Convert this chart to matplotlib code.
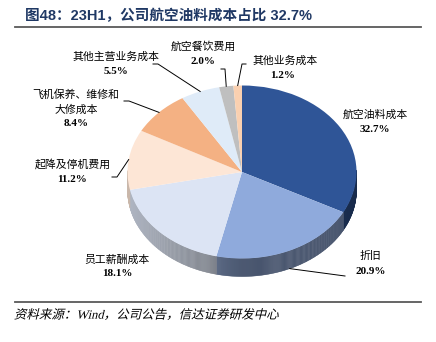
import numpy as np
import matplotlib
matplotlib.use('Agg')
from matplotlib import pyplot as plt
from matplotlib.collections import PolyCollection
from matplotlib.colors import to_rgb
from matplotlib.textpath import TextPath
from matplotlib.font_manager import FontProperties
from matplotlib.patches import PathPatch
from matplotlib.transforms import Affine2D

plt.rcParams['font.family'] = ['Liberation Serif', 'Noto Sans CJK SC']

# 2023H1 cost structure, clockwise from 12 o'clock
names = ['航空油料成本', '折旧', '员工薪酬成本', '起降及停机费用',
         '飞机保养、维修和\n大修成本', '其他主营业务成本', '航空餐饮费用', '其他业务成本']
shares = [32.7, 20.9, 18.1, 11.2, 8.4, 5.5, 2.0, 1.2]
colors = ['#2F5597', '#8FAADC', '#DCE4F4', '#FDE6D6',
          '#F4B183', '#DFEBF8', '#BFBFBF', '#FAD0B0']

title = '图48：23H1，公司航空油料成本占比 32.7%'
source = '资料来源：Wind，公司公告，信达证券研发中心'

W, H = 436, 342
CX, CY = 242, 172      # pie centre in pixels (y from top)
RX, RY = 114.5, 86.5   # ellipse half axes
DEPTH = 18             # rim thickness in pixels

# label anchors (pixels): name position, value position, leader knee points
label_pos = [
    ((375, 115), (375, 129), None),
    ((370, 256), (371, 271), [(345, 276)]),
    ((117, 260), (117, 274), None),
    ((73, 164), (72, 179), [(112, 177), (117, 177)]),
    ((76, 102), (76, 124), [(124, 101), (129, 101)]),
    ((116, 57), (116, 72), [(153, 64), (158, 64)]),
    ((203, 47), (203, 62), [(221, 69), (225, 69)]),
    ((285, 61), (283, 75), [(246, 64), (242, 64)]),
]


def pie_px(theta, drop=0.0):
    t = np.deg2rad(theta)
    return CX + RX * np.cos(t), CY - RY * np.sin(t) + drop


def rim_shade(color, theta):
    # lighter on the left of the rim, darker towards the front/right
    c = np.array(to_rgb(color))
    k = 0.5 + 0.3 * max(0.0, -np.cos(np.deg2rad(theta)))
    return tuple(c * k)


def slanted_text(ax, x, y, s, size, skew=14):
    # CJK fonts here have no italic face, so shear the glyph outlines instead
    prop = FontProperties(family=['Liberation Serif', 'Noto Sans CJK SC'])
    tp = TextPath((0, 0), s, size=size, prop=prop)
    ext = tp.get_extents()
    tr = (Affine2D().translate(0, -(ext.y0 + ext.y1) / 2)
          .skew_deg(skew, 0).scale(100 / 72, -100 / 72).translate(x, y))
    ax.add_patch(PathPatch(tr.transform_path(tp), facecolor='black',
                           edgecolor='none'))


def main():
    fig = plt.figure(figsize=(W / 100, H / 100), dpi=100)

    ax_pie = fig.add_axes([0, 0, 1, 1])
    wedges, _ = ax_pie.pie(shares, colors=colors, startangle=90, counterclock=False,
                           radius=1, wedgeprops=dict(linewidth=0, zorder=3))
    ax_pie.set_aspect('auto')
    ax_pie.set_xlim(-CX / RX, (W - CX) / RX)
    ax_pie.set_ylim(-(H - CY) / RY, CY / RY)
    ax_pie.axis('off')

    # rim of the pie, visible only on the lower half
    d = DEPTH / RY
    quads, quad_colors = [], []
    for w, c in zip(wedges, colors):
        steps = np.arange(w.theta1, w.theta2, 0.5)
        steps = np.append(steps, w.theta2)
        for t0, t1 in zip(steps[:-1], steps[1:]):
            tm = (t0 + t1) / 2
            if np.sin(np.deg2rad(tm)) > 0.02:
                continue
            a0, a1 = np.deg2rad(t0), np.deg2rad(t1)
            quads.append([(np.cos(a0), np.sin(a0)), (np.cos(a1), np.sin(a1)),
                          (np.cos(a1), np.sin(a1) - d), (np.cos(a0), np.sin(a0) - d)])
            quad_colors.append(rim_shade(c, tm))
    ax_pie.add_collection(PolyCollection(quads, facecolors=quad_colors,
                                         edgecolors=quad_colors, linewidths=0.3, zorder=1))

    ax = fig.add_axes([0, 0, 1, 1])
    ax.set_xlim(0, W)
    ax.set_ylim(H, 0)
    ax.axis('off')
    ax.patch.set_alpha(0)

    for w, name, v, (npos, vpos, knees) in zip(wedges, names, shares, label_pos):
        ax.text(*npos, name, ha='center', va='center', fontsize=7.8,
                linespacing=1.55, color='black')
        ax.text(*vpos, f'{v:.1f}%', ha='center', va='center', fontsize=8,
                fontweight='bold', color='black')
        if knees:
            mid = (w.theta1 + w.theta2) / 2
            drop = DEPTH if np.sin(np.deg2rad(mid)) < -0.5 else 0
            ex, ey = pie_px(mid, drop)
            xs = [k[0] for k in knees] + [ex]
            ys = [k[1] for k in knees] + [ey]
            ax.plot(xs, ys, color='black', linewidth=0.7)

    # header and footer
    ax.text(25, 16, title, ha='left', va='center', fontsize=10.5, fontweight='bold',
            color='#1F3864', family=['Liberation Sans', 'Noto Sans CJK SC'])
    ax.plot([15, 421], [27, 27], color='#595959', linewidth=1.3)
    ax.plot([15, 421], [302, 302], color='#595959', linewidth=1.3)
    slanted_text(ax, 15, 314, source, 9)

    fig.savefig('out.png', dpi=100)


if __name__ == '__main__':
    main()
